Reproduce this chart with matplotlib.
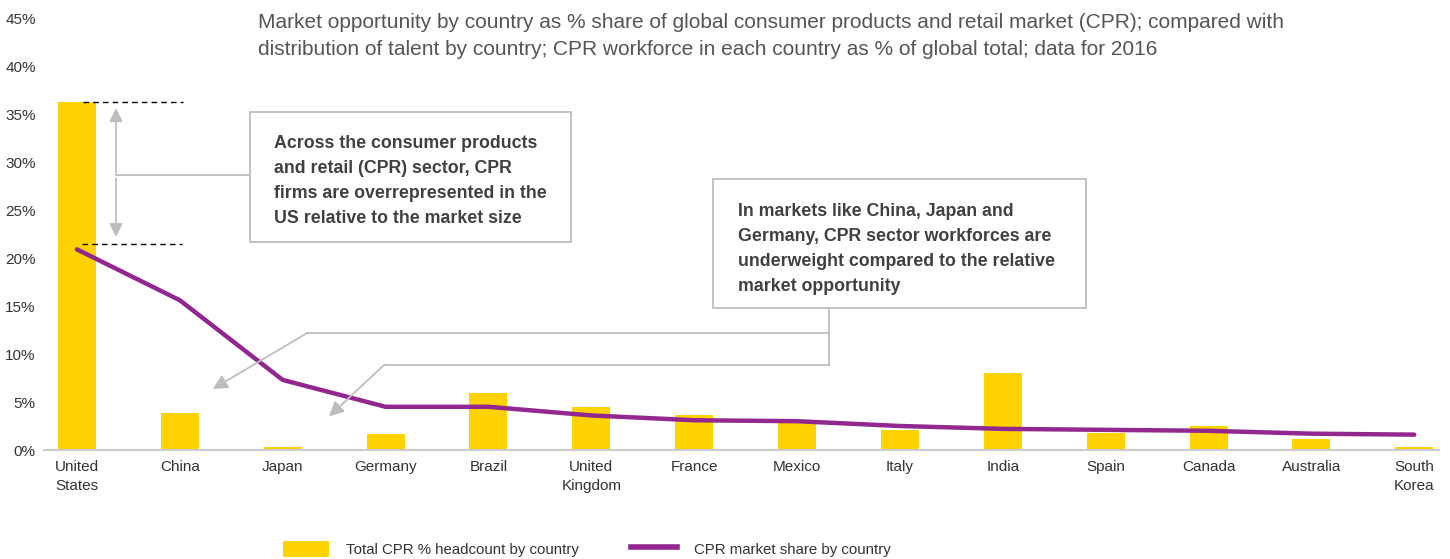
import matplotlib.pyplot as plt
from matplotlib.patches import Patch, Rectangle
from matplotlib.lines import Line2D

plt.rcParams.update({
    "font.family": ["Liberation Sans", "DejaVu Sans"],
    "text.color": "#333333",
})

countries = ["United\nStates", "China", "Japan", "Germany", "Brazil", "United\nKingdom",
             "France", "Mexico", "Italy", "India", "Spain", "Canada", "Australia",
             "South\nKorea"]
headcount = [36.3, 3.9, 0.3, 1.7, 5.9, 4.5, 3.6, 2.8, 2.1, 8.0, 1.8, 2.5, 1.1, 0.3]
market_share = [20.9, 15.6, 7.3, 4.5, 4.5, 3.6, 3.1, 3.0, 2.5, 2.2, 2.1, 2.0, 1.7, 1.6]
yticks = [0, 5, 10, 15, 20, 25, 30, 35, 40, 45]

YELLOW = "#FFD200"
PURPLE = "#922790"
GREY = "#BEBEBE"

fig = plt.figure(figsize=(14.5, 5.59), dpi=100)
ax = fig.add_axes([44 / 1450, 1 - 450 / 559, (1439 - 44) / 1450, (450 - 18) / 559])

x = list(range(len(countries)))
ax.bar(x, headcount, width=0.37, color=YELLOW, zorder=2)
ax.plot(x, market_share, color=PURPLE, linewidth=3.2, solid_capstyle="round", zorder=3)

ax.set_xlim(-0.32, 13.24)
ax.set_ylim(0, 45)
ax.set_yticks(yticks)
ax.set_yticklabels([f"{v}%" for v in yticks])
ax.set_xticks(x)
ax.set_xticklabels(countries, linespacing=1.45)
ax.tick_params(axis="both", length=0, labelsize=11, labelcolor="#333333")
ax.tick_params(axis="y", pad=6)
ax.tick_params(axis="x", pad=7)
for s in ["top", "right", "left"]:
    ax.spines[s].set_visible(False)
ax.spines["bottom"].set_color("#CCCCCC")
ax.spines["bottom"].set_linewidth(1.5)

# gap markers on the US bar
us_top, us_line = headcount[0], 21.5
ax.plot([0.06, 1.03], [us_top, us_top], color="black", linestyle=(0, (4, 3)), linewidth=1, zorder=4)
ax.plot([0.05, 1.02], [us_line, us_line], color="black", linestyle=(0, (4, 3)), linewidth=1, zorder=4)
ax.annotate("", xy=(0.38, us_top - 0.4), xytext=(0.38, 28.6),
            arrowprops=dict(arrowstyle="-|>", color=GREY, lw=1.3, mutation_scale=20), zorder=4)
ax.annotate("", xy=(0.38, us_line + 0.4), xytext=(0.38, 28.6),
            arrowprops=dict(arrowstyle="-|>", color=GREY, lw=1.3, mutation_scale=20), zorder=4)
ax.plot([0.38, 1.68], [28.6, 28.6], color=GREY, linewidth=1.3, zorder=4)

# box 1
ax.add_patch(Rectangle((1.68, 21.7), 3.12, 13.5, facecolor="white", edgecolor=GREY,
                       linewidth=1.3, zorder=5))
ax.text(1.92, 32.8, "Across the consumer products\nand retail (CPR) sector, CPR\n"
        "firms are overrepresented in the\nUS relative to the market size",
        fontsize=12.8, fontweight="bold", color="#404040", va="top", linespacing=1.62, zorder=6)

# box 2 with connectors
ax.add_patch(Rectangle((6.18, 14.8), 3.63, 13.4, facecolor="white", edgecolor=GREY,
                       linewidth=1.3, zorder=5))
ax.text(6.43, 25.7, "In markets like China, Japan and\nGermany, CPR sector workforces are\n"
        "underweight compared to the relative\nmarket opportunity",
        fontsize=12.8, fontweight="bold", color="#404040", va="top", linespacing=1.62, zorder=6)
ax.plot([7.31, 7.31], [14.8, 8.9], color=GREY, linewidth=1.3, zorder=4)
ax.plot([7.31, 2.24], [12.2, 12.2], color=GREY, linewidth=1.3, zorder=4)
ax.plot([7.31, 2.99], [8.9, 8.9], color=GREY, linewidth=1.3, zorder=4)
ax.annotate("", xy=(1.32, 6.35), xytext=(2.24, 12.2),
            arrowprops=dict(arrowstyle="-|>", color=GREY, lw=1.3, mutation_scale=22,
                            shrinkA=0, shrinkB=0), zorder=4)
ax.annotate("", xy=(2.45, 3.5), xytext=(2.99, 8.9),
            arrowprops=dict(arrowstyle="-|>", color=GREY, lw=1.3, mutation_scale=22,
                            shrinkA=0, shrinkB=0), zorder=4)

fig.text(258 / 1450, 1 - 13 / 559,
         "Market opportunity by country as % share of global consumer products and retail market (CPR); compared with\n"
         "distribution of talent by country; CPR workforce in each country as % of global total; data for 2016",
         fontsize=15, color="#555555", va="top", linespacing=1.55)

handles = [Patch(facecolor=YELLOW, edgecolor="none"),
           Line2D([0], [0], color=PURPLE, linewidth=4)]
fig.legend(handles, ["Total CPR % headcount by country", "CPR market share by country"],
           loc="center left", bbox_to_anchor=(269 / 1450, 1 - 549 / 559), ncol=2,
           frameon=False, fontsize=10.8, handlelength=3.1, handleheight=1.3,
           handletextpad=1.1, columnspacing=3.5, labelcolor="#333333")

fig.savefig("out.png", dpi=100)
